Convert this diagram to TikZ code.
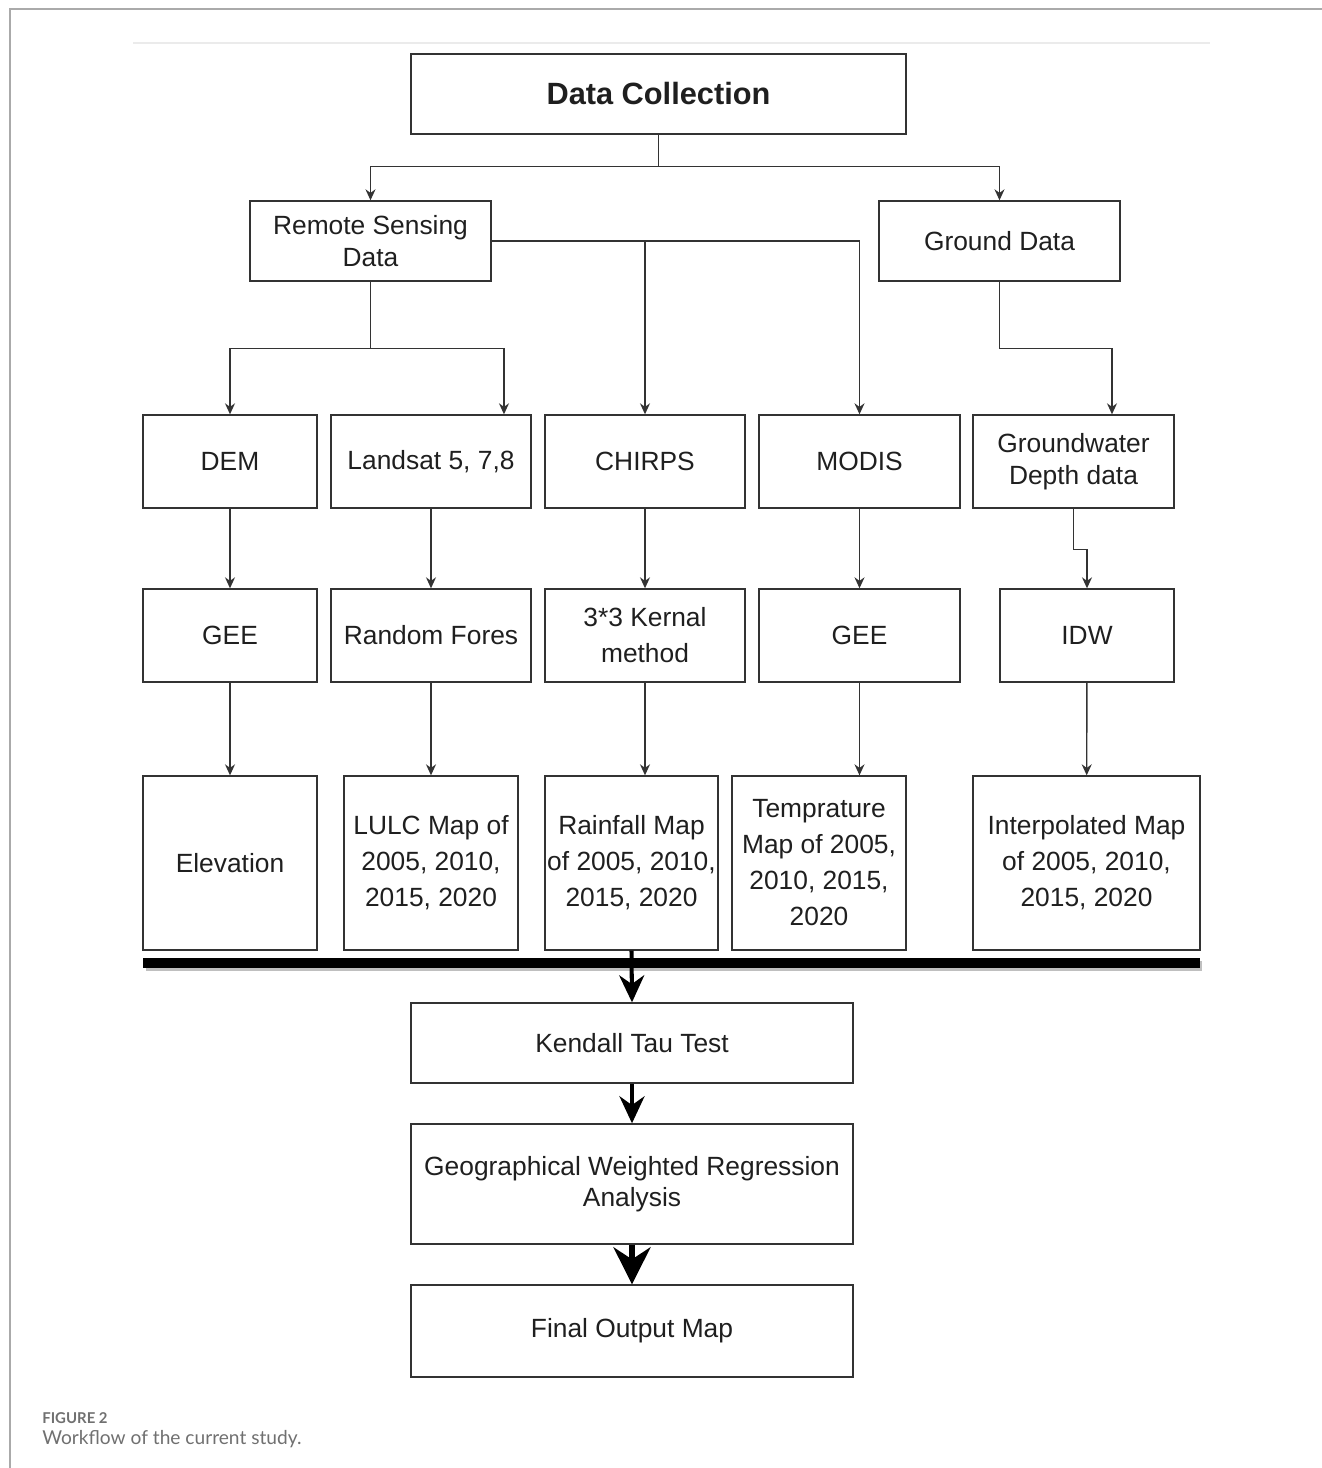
\documentclass[tikz,border=0pt]{standalone}
\usepackage{fontspec}
\setmainfont{Liberation Sans}
\newfontfamily\capfont{Lato}
\usetikzlibrary{arrows.meta,shadows}

\definecolor{boxline}{HTML}{333333}
\definecolor{framegray}{HTML}{AAAAAA}
\definecolor{capgray}{HTML}{707070}

\begin{document}
\begin{tikzpicture}[x=0.02cm,y=-0.02cm,
		box/.style={draw=boxline,line width=0.8pt,align=center,inner sep=2pt,text=black!88,font=\fontsize{15}{18}\selectfont},
		loose/.style={font=\fontsize{15}{20.5}\selectfont},
		>={Stealth[length=0.22cm,width=0.2cm]},
		thin arrow/.style={draw=boxline,line width=0.8pt,->},
		fat arrow/.style={line width=2.3pt,-{Stealth[length=0.54cm,width=0.5cm]}},
		fatter arrow/.style={line width=3pt,-{Stealth[length=0.74cm,width=0.74cm]}}]
		\useasboundingbox (0,0) rectangle (1322,1468);
		% page frame and rule
		\draw[framegray,line width=1.2pt] (10,1468) -- (10,9) -- (1322,9);
		\draw[black!8,line width=1.5pt] (133,43) -- (1210,43);

		\node[box,minimum width=9.9cm,minimum height=1.6cm,font=\fontsize{17.5}{21}\selectfont\bfseries] (DC) at (658.5,94) {Data Collection};
		\node[box,minimum width=4.82cm,minimum height=1.6cm] (RSD) at (370.5,241) {Remote Sensing\\Data};
		\node[box,minimum width=4.82cm,minimum height=1.6cm] (GD) at (999.5,241) {Ground Data};

		\node[box,minimum width=3.48cm,minimum height=1.86cm] (DEM) at (230,461.5) {DEM};
		\node[box,minimum width=4cm,minimum height=1.86cm] (LS) at (431,461.5) {Landsat 5, 7,8};
		\node[box,minimum width=4cm,minimum height=1.86cm] (CHIRPS) at (645,461.5) {CHIRPS};
		\node[box,minimum width=4.02cm,minimum height=1.86cm] (MODIS) at (859.5,461.5) {MODIS};
		\node[box,minimum width=4.02cm,minimum height=1.86cm] (GWD) at (1073.5,461.5) {Groundwater\\Depth data};

		\node[box,minimum width=3.48cm,minimum height=1.86cm] (GEEa) at (230,635.5) {GEE};
		\node[box,minimum width=4cm,minimum height=1.86cm] (RF) at (431,635.5) {Random Fores};
		\node[box,loose,minimum width=4cm,minimum height=1.86cm] (KM) at (645,635.5) {3*3 Kernal\\method};
		\node[box,minimum width=4.02cm,minimum height=1.86cm] (GEEb) at (859.5,635.5) {GEE};
		\node[box,minimum width=3.48cm,minimum height=1.86cm] (IDW) at (1087,635.5) {IDW};

		\node[box,minimum width=3.48cm,minimum height=3.48cm] (ELEV) at (230,863) {Elevation};
		\node[box,loose,minimum width=3.48cm,minimum height=3.48cm] (LULC) at (431,863) {LULC Map of\\2005, 2010,\\2015, 2020};
		\node[box,loose,minimum width=3.46cm,minimum height=3.48cm,inner sep=0pt] (RAIN) at (631.5,863) {Rainfall Map\\of 2005, 2010,\\2015, 2020};
		\node[box,loose,minimum width=3.48cm,minimum height=3.48cm] (TEMP) at (819,863) {Temprature\\Map of 2005,\\2010, 2015,\\2020};
		\node[box,loose,minimum width=4.54cm,minimum height=3.48cm] (INTERP) at (1086.5,863) {Interpolated Map\\of 2005, 2010,\\2015, 2020};

		\node[fill=black,inner sep=0pt,minimum width=21.14cm,minimum height=0.2cm,
			drop shadow={shadow xshift=0.05cm,shadow yshift=-0.06cm,fill=black!25,opacity=1}] (BAR) at (671.5,963) {};

		\node[box,minimum width=8.84cm,minimum height=1.6cm] (KTT) at (632,1043) {Kendall Tau Test};
		\node[box,minimum width=8.84cm,minimum height=2.4cm] (GWR) at (632,1184) {Geographical Weighted Regression\\Analysis};
		\node[box,minimum width=8.84cm,minimum height=1.84cm] (FOM) at (632,1331) {Final Output Map};

		\draw[thin arrow] (DC.south) -- ++(0,32) -| (RSD.north);
		\draw[thin arrow] (DC.south) -- ++(0,32) -| (GD.north);
		\draw[thin arrow] (RSD.east) -| (CHIRPS.north);
		\draw[thin arrow] (RSD.east) -| (MODIS.north);
		\draw[thin arrow] (RSD.south) -- ++(0,67) -| (DEM.north);
		\draw[thin arrow] (RSD.south) -- ++(0,67) -| ([xshift=1.46cm]LS.north);
		\draw[thin arrow] (GD.south) -- ++(0,67) -| ([xshift=0.77cm]GWD.north);

		\draw[thin arrow] (DEM) -- (GEEa);
		\draw[thin arrow] (LS) -- (RF);
		\draw[thin arrow] (CHIRPS) -- (KM);
		\draw[thin arrow] (MODIS) -- (GEEb);
		\draw[thin arrow] (GWD.south) -- ++(0,41) -| (IDW.north);

		\draw[thin arrow] (GEEa) -- (ELEV);
		\draw[thin arrow] (RF) -- (LULC);
		\draw[thin arrow] (KM.south) -- (KM.south |- RAIN.north);
		\draw[thin arrow] (GEEb.south) -- (GEEb.south |- TEMP.north);
		\draw[thin arrow] (IDW) -- (INTERP);

		\draw[fat arrow] (RAIN.south) -- (KTT.north);
		\draw[fat arrow] (KTT) -- (GWR);
		\draw[fatter arrow] (GWR) -- (FOM);

		% caption
		\node[anchor=base west,inner sep=0pt,text=capgray,font=\capfont\fontsize{8.5}{10}\selectfont\bfseries] (FIG) at (42,1423) {FIGURE 2};
		\node[anchor=base west,inner sep=0pt,text=capgray,font=\capfont\fontsize{10.9}{13}\selectfont] (CAP) at (42,1444) {Workflow of the current study.};
	\end{tikzpicture}
\end{document}
